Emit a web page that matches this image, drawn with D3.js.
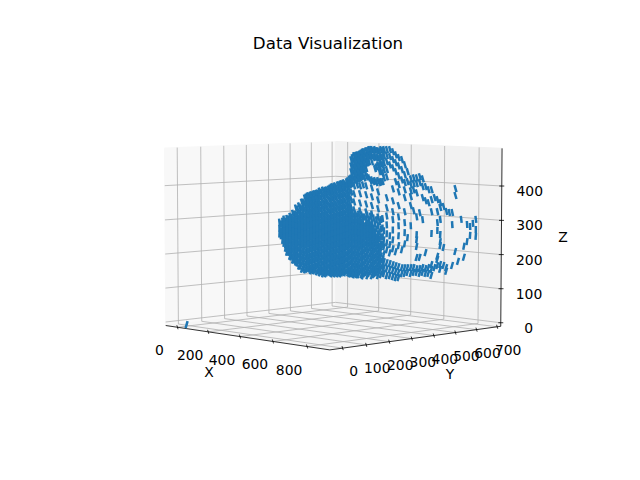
<!DOCTYPE html>
<html>
<head>
<meta charset="utf-8">
<style>
  html, body { margin: 0; padding: 0; background: #fff; }
  text { font-family: "DejaVu Sans", sans-serif; fill: #000; }
</style>
</head>
<body>
<div id="graph"></div>
<script src="https://cdn.jsdelivr.net/npm/d3@7"></script>
<script>
'use strict';

var xTicks = [0, 200, 400, 600, 800];
var yTicks = [0, 100, 200, 300, 400, 500, 600, 700];
var zTicks = [0, 100, 200, 300, 400];
var xLim = [-58, 909];
var yLim = [-38, 702];
var zLim = [0, 499];

// points come in stacks: one x, one y and a list of z values
var columnX = [0, 280, 288, 297, 305, 313, 322, 330, 338, 347, 355, 363, 372, 380, 388, 397, 405, 413, 422, 430, 438, 447, 455, 463, 472,
  480, 488, 497, 505, 513, 522, 530, 538, 547, 555, 563, 572, 580, 588, 597, 605, 613, 622, 630, 638, 647, 655, 664, 672, 680, 689,
  697, 705, 714, 722, 730, 739, 747, 755, 764, 772, 780, 789, 797, 805, 814, 822, 830,
  284, 292, 301, 309, 317, 326, 334, 342, 351, 359, 367, 376, 384, 392, 401, 409, 418, 426, 434, 443, 451, 459, 468, 476,
  484, 492, 501, 509, 517, 526, 534, 543, 551, 559, 568];
var columnY = [-15, 199, 207, 214, 221, 228, 236, 243, 250, 257, 265, 272, 279, 286, 294, 301, 308, 315, 323, 330, 337, 345, 352, 359, 366,
  374, 381, 388, 395, 402, 410, 417, 424, 431, 439, 446, 453, 460, 468, 475, 482, 489, 497, 504, 511, 519, 526, 533, 541, 548, 555,
  562, 570, 577, 584, 591, 599, 606, 613, 620, 628, 635, 642, 649, 657, 664, 671, 678,
  203, 210, 217, 225, 232, 239, 247, 254, 261, 268, 276, 283, 290, 297, 305, 312, 319, 326, 334, 341, 348, 355, 363, 370,
  377, 385, 392, 399, 406, 413, 421, 428, 435, 443, 450];
var columnZ = [
  [-6],
  [295, 277, 260],
  [298, 280, 262, 242],
  [298, 280, 263, 245, 228, 219],
  [304, 286, 269, 251, 233, 216, 207],
  [309, 292, 274, 257, 239, 222, 204, 193],
  [318, 301, 283, 266, 248, 230, 213, 195, 184],
  [333, 315, 298, 280, 263, 245, 228, 210, 193, 175],
  [339, 321, 304, 286, 269, 251, 233, 216, 198, 181, 166],
  [353, 336, 318, 301, 283, 266, 248, 230, 213, 195, 178, 160],
  [368, 350, 333, 315, 298, 280, 263, 245, 228, 210, 193, 175, 157],
  [371, 353, 336, 318, 301, 283, 266, 248, 230, 213, 195, 178, 160, 157],
  [374, 356, 339, 321, 304, 286, 269, 251, 233, 216, 198, 181, 163, 155],
  [377, 359, 342, 324, 306, 289, 271, 254, 236, 219, 201, 184, 166, 155],
  [379, 362, 344, 327, 309, 292, 274, 257, 239, 222, 204, 187, 169, 152],
  [382, 365, 347, 330, 312, 295, 277, 260, 242, 225, 207, 190, 172, 155, 149],
  [385, 368, 350, 333, 315, 298, 280, 263, 245, 228, 210, 193, 175, 157, 146],
  [388, 371, 353, 336, 318, 301, 283, 266, 248, 230, 213, 195, 178, 160, 146],
  [394, 377, 359, 342, 324, 306, 289, 271, 254, 236, 219, 201, 184, 166, 149, 146],
  [397, 379, 362, 344, 327, 309, 292, 274, 257, 239, 222, 204, 187, 169, 152, 146],
  [397, 382, 365, 347, 330, 312, 295, 277, 260, 242, 225, 207, 190, 172, 155, 146],
  [403, 385, 368, 350, 333, 315, 298, 280, 263, 245, 228, 210, 193, 175, 157, 146],
  [406, 388, 371, 353, 336, 318, 301, 283, 266, 248, 230, 213, 195, 178, 160, 146],
  [406, 391, 374, 356, 339, 321, 304, 286, 269, 251, 233, 216, 198, 181, 163, 146],
  [415, 397, 379, 362, 344, 327, 309, 292, 274, 257, 239, 222, 204, 187, 169, 152, 146],
  [476, 458, 441, 423, 406, 382, 359, 336, 318, 301, 283, 266, 248, 230, 213, 195, 178, 160, 143],
  [488, 470, 452, 435, 417, 400, 377, 353, 330, 312, 295, 277, 260, 242, 225, 207, 190, 172, 155, 140],
  [490, 473, 455, 438, 420, 403, 312, 295, 277, 260, 242, 225, 207, 190, 172, 155, 140],
  [493, 476, 458, 441, 423, 400, 377, 350, 327, 306, 289, 271, 254, 236, 219, 201, 184, 166, 149],
  [499, 482, 464, 447, 429, 403, 309, 292, 274, 257, 239, 222, 204, 187, 169, 152, 137],
  [502, 485, 467, 450, 429, 400, 374, 347, 324, 304, 286, 269, 251, 233, 216, 198, 181, 163, 146],
  [505, 488, 470, 423, 301, 283, 266, 248, 230, 213, 195, 178, 160, 143],
  [505, 488, 470, 417, 394, 368, 342, 318, 295, 277, 260, 242, 225, 207, 190, 172, 155, 137],
  [505, 485, 450, 415, 289, 266, 248, 230, 213, 195, 178, 160, 143],
  [502, 482, 461, 415, 382, 359, 333, 309, 283, 260, 242, 225, 207, 190, 172, 155, 137],
  [505, 485, 464, 441, 412, 301, 274, 251, 230, 213, 195, 178, 160, 140],
  [505, 488, 467, 447, 423, 269, 242, 222, 201, 178, 160, 143],
  [505, 488, 470, 447, 426, 365, 336, 312, 286, 260, 233, 213, 175, 157, 137],
  [505, 485, 461, 254, 228, 204, 172, 155, 137],
  [499, 476, 452, 391, 356, 324, 301, 271, 242, 216, 169, 152, 134],
  [490, 467, 441, 412, 207, 166, 149, 131],
  [482, 458, 429, 403, 382, 342, 309, 283, 254, 225, 163, 146, 131],
  [476, 447, 417, 213, 160, 143],
  [461, 432, 409, 388, 365, 324, 292, 263, 230, 160, 143],
  [441, 412, 248, 160, 146],
  [420, 403, 385, 368, 342, 283, 160, 143],
  [423, 406, 388, 327, 160, 146],
  [423, 406, 379, 309, 257, 242, 222, 190, 157, 146],
  [426, 409, 321, 190, 157, 143],
  [420, 397, 365, 301, 160, 146],
  [397, 356, 204, 157, 143],
  [388, 350, 160, 143],
  [388, 359, 324, 260, 169, 155, 137],
  [365, 160],
  [359, 324, 292, 269, 193, 184, 166],
  [350, 336, 301, 257, 236, 225, 169, 155],
  [339, 219, 166],
  [324, 160, 149],
  [321],
  [321, 286, 166],
  [391, 371, 207],
  [178],
  [301],
  [222, 190],
  [286, 236],
  [280, 254],
  [289],
  [301, 271, 251],
  [290, 270, 255],
  [304, 286, 269, 251, 233],
  [306, 289, 271, 254, 236, 219, 207],
  [312, 295, 277, 260, 242, 225, 207, 195],
  [321, 304, 286, 269, 251, 233, 216, 198, 184],
  [336, 318, 301, 283, 266, 248, 230, 213, 195, 178],
  [342, 324, 306, 289, 271, 254, 236, 219, 201, 184, 166],
  [353, 333, 315, 298, 280, 263, 245, 228, 210, 193, 175, 157],
  [365, 347, 330, 312, 295, 277, 260, 242, 225, 207, 190, 172, 155],
  [371, 353, 333, 318, 298, 283, 263, 245, 230, 210, 193, 178, 160],
  [374, 356, 339, 321, 304, 286, 269, 251, 233, 216, 198, 181, 163, 152],
  [377, 359, 342, 324, 306, 289, 271, 254, 236, 219, 201, 184, 166, 152],
  [379, 362, 344, 327, 309, 292, 274, 257, 239, 222, 204, 187, 169, 149],
  [385, 368, 350, 333, 315, 298, 280, 263, 245, 228, 210, 193, 175, 157, 146],
  [388, 371, 353, 336, 318, 301, 283, 266, 248, 230, 213, 195, 178, 160, 143],
  [388, 374, 356, 339, 321, 304, 286, 269, 251, 233, 216, 198, 181, 163, 143],
  [391, 379, 362, 344, 327, 309, 292, 274, 257, 239, 222, 204, 187, 169, 149],
  [397, 382, 365, 347, 330, 312, 295, 277, 260, 242, 225, 207, 190, 172, 155, 143],
  [400, 385, 368, 350, 333, 315, 298, 280, 263, 245, 228, 210, 193, 175, 157, 143],
  [403, 388, 371, 353, 336, 318, 301, 283, 266, 248, 230, 213, 195, 178, 160, 143],
  [406, 391, 374, 356, 339, 321, 304, 286, 269, 251, 233, 216, 198, 181, 163, 143],
  [409, 394, 377, 359, 342, 324, 306, 289, 271, 254, 236, 219, 201, 184, 166, 149],
  [412, 397, 379, 362, 344, 327, 309, 292, 274, 257, 239, 222, 204, 187, 169, 152],
  [420, 403, 385, 368, 350, 333, 315, 298, 280, 263, 245, 228, 210, 193, 175, 157, 143],
  [482, 464, 447, 429, 412, 318, 301, 283, 266, 248, 230, 213, 195, 178, 160, 143],
  [488, 470, 452, 435, 417, 318, 301, 283, 266, 248, 230, 213, 195, 178, 160, 143],
  [490, 473, 455, 438, 420, 318, 298, 280, 263, 245, 228, 210, 193, 175, 157, 140],
  [496, 479, 461, 444, 426, 315, 295, 277, 260, 242, 225, 207, 190, 172, 155, 140],
  [499, 482, 464, 447, 423, 309, 283, 266, 248, 230, 213, 195, 178, 160, 143],
  [502, 485, 467, 426, 315, 292, 274, 257, 239, 222, 204, 187, 169, 152, 137],
  [505, 488, 415, 312, 286, 271, 254, 236, 219, 201, 184, 166, 149],
  [502, 482, 412, 306, 277, 260, 242, 225, 207, 190, 172, 155, 140],
  [502, 482, 455, 409, 301, 274, 251, 233, 216, 198, 181, 163, 146],
  [499, 479, 458, 441, 409, 295, 265, 245, 222, 204, 187, 169, 152],
  [502, 482, 461, 438, 412, 304, 277, 251, 228, 184, 166, 149]
];

var elev = 5 * Math.PI / 180,
    azim = -44 * Math.PI / 180,
    dist = 10,
    box = [1.1429, 1.1429, 0.8571];

var xNorm = d3.scaleLinear().domain(xLim).range([0, box[0]]),
    yNorm = d3.scaleLinear().domain(yLim).range([0, box[1]]),
    zNorm = d3.scaleLinear().domain(zLim).range([0, box[2]]);

// same screen box an mplot3d axes gets in a 640x480 figure
var screenX = d3.scaleLinear().domain([-0.095, 0.09]).range([143.2, 512.8]),
    screenY = d3.scaleLinear().domain([-0.095, 0.09]).range([427.2, 57.6]);

var wDir = [Math.cos(azim) * Math.cos(elev), Math.sin(azim) * Math.cos(elev), Math.sin(elev)],
    uDir = [-wDir[1], wDir[0], 0],
    uLen = Math.hypot(uDir[0], uDir[1]);
uDir = [uDir[0] / uLen, uDir[1] / uLen, 0];
var vDir = [
  wDir[1] * uDir[2] - wDir[2] * uDir[1],
  wDir[2] * uDir[0] - wDir[0] * uDir[2],
  wDir[0] * uDir[1] - wDir[1] * uDir[0]
];

function dot(a, b) { return a[0] * b[0] + a[1] * b[1] + a[2] * b[2]; }

function project(x, y, z) {
  var p = [xNorm(x) - box[0] / 2, yNorm(y) - box[1] / 2, zNorm(z) - box[2] / 2],
      depth = dist - dot(p, wDir);
  return [screenX(dot(p, uDir) / depth), screenY(dot(p, vDir) / depth)];
}

// panes stick out of the limits by 1/48 of the range
function padded(lim) {
  var pad = (lim[1] - lim[0]) / 48;
  return [lim[0] - pad, lim[1] + pad];
}
var xp = padded(xLim), yp = padded(yLim), zp = padded(zLim);

var svg = d3.select('#graph').append('svg')
    .attr('width', 640)
    .attr('height', 480)
    .style('display', 'block');

var outline = d3.line();

function pane(corners, fill) {
  svg.append('path')
    .attr('d', outline(corners) + 'Z')
    .attr('fill', fill)
    .attr('stroke', fill)
    .attr('stroke-width', 1);
}

function segment(a, b, color, width) {
  svg.append('line')
    .attr('x1', a[0]).attr('y1', a[1])
    .attr('x2', b[0]).attr('y2', b[1])
    .attr('stroke', color)
    .attr('stroke-width', width);
}

pane([project(xp[0], yp[0], zp[0]), project(xp[0], yp[1], zp[0]), project(xp[0], yp[1], zp[1]), project(xp[0], yp[0], zp[1])], '#f8f8f8');
pane([project(xp[0], yp[1], zp[0]), project(xp[1], yp[1], zp[0]), project(xp[1], yp[1], zp[1]), project(xp[0], yp[1], zp[1])], '#f2f2f2');
pane([project(xp[0], yp[0], zp[0]), project(xp[1], yp[0], zp[0]), project(xp[1], yp[1], zp[0]), project(xp[0], yp[1], zp[0])], '#f5f5f5');

// grid
var gridColor = '#b0b0b0';
xTicks.forEach(function(t) {
  segment(project(t, yp[0], zp[0]), project(t, yp[1], zp[0]), gridColor, 0.8);
  segment(project(t, yp[1], zp[0]), project(t, yp[1], zp[1]), gridColor, 0.8);
});
yTicks.forEach(function(t) {
  segment(project(xp[1], t, zp[0]), project(xp[0], t, zp[0]), gridColor, 0.8);
  segment(project(xp[0], t, zp[0]), project(xp[0], t, zp[1]), gridColor, 0.8);
});
zTicks.forEach(function(t) {
  segment(project(xp[0], yp[0], t), project(xp[0], yp[1], t), gridColor, 0.8);
  segment(project(xp[0], yp[1], t), project(xp[1], yp[1], t), gridColor, 0.8);
});

// axis lines
segment(project(xp[0], yp[0], zp[0]), project(xp[1], yp[0], zp[0]), '#000', 0.8);
segment(project(xp[1], yp[0], zp[0]), project(xp[1], yp[1], zp[0]), '#000', 0.8);
segment(project(xp[1], yp[1], zp[0]), project(xp[1], yp[1], zp[1]), '#000', 0.8);

function label(pos, txt, size) {
  svg.append('text')
    .attr('x', pos[0])
    .attr('y', pos[1])
    .attr('text-anchor', 'middle')
    .attr('dominant-baseline', 'central')
    .attr('font-size', size)
    .text(txt);
}

xTicks.forEach(function(t) {
  var p = project(t, yp[0], zp[0]);
  segment([p[0] - 0.6, p[1] - 2], [p[0] + 0.6, p[1] + 2], '#000', 0.8);
  label([p[0] - 18, p[1] + 23], t, 13.9);
});
yTicks.forEach(function(t) {
  var p = project(xp[1], t, zp[0]);
  segment([p[0] - 0.6, p[1] - 2], [p[0] + 0.6, p[1] + 2], '#000', 0.8);
  label([p[0] + 11, p[1] + 23], t, 13.9);
});
zTicks.forEach(function(t) {
  var p = project(xp[1], yp[1], t);
  segment([p[0] - 2.5, p[1]], [p[0] + 2.5, p[1]], '#000', 0.8);
  label([p[0] + 28, p[1] + 5], t, 13.9);
});

label([209, 372], 'X', 13.9);
label([450, 374], 'Y', 13.9);
label([563, 237], 'Z', 13.9);
label([328, 43], 'Data Visualization', 16.67);

// points, drawn as short leaning dashes
var points = [];
columnZ.forEach(function(list, i) {
  list.forEach(function(z) {
    points.push({ x: columnX[i], y: columnY[i], z: z });
  });
});

var lean = d3.scaleLinear().domain([200, 340]).range([-1, 1]).clamp(true);

svg.append('g')
    .attr('stroke', '#1f77b4')
    .attr('stroke-width', 2.5)
  .selectAll('line')
  .data(points)
  .enter().append('line')
    .attr('x1', function(d) { return project(d.x, d.y, d.z)[0] - lean(d.z); })
    .attr('y1', function(d) { return project(d.x, d.y, d.z)[1] - 3.5; })
    .attr('x2', function(d) { return project(d.x, d.y, d.z)[0] + lean(d.z); })
    .attr('y2', function(d) { return project(d.x, d.y, d.z)[1] + 3.5; });
</script>
</body>
</html>
